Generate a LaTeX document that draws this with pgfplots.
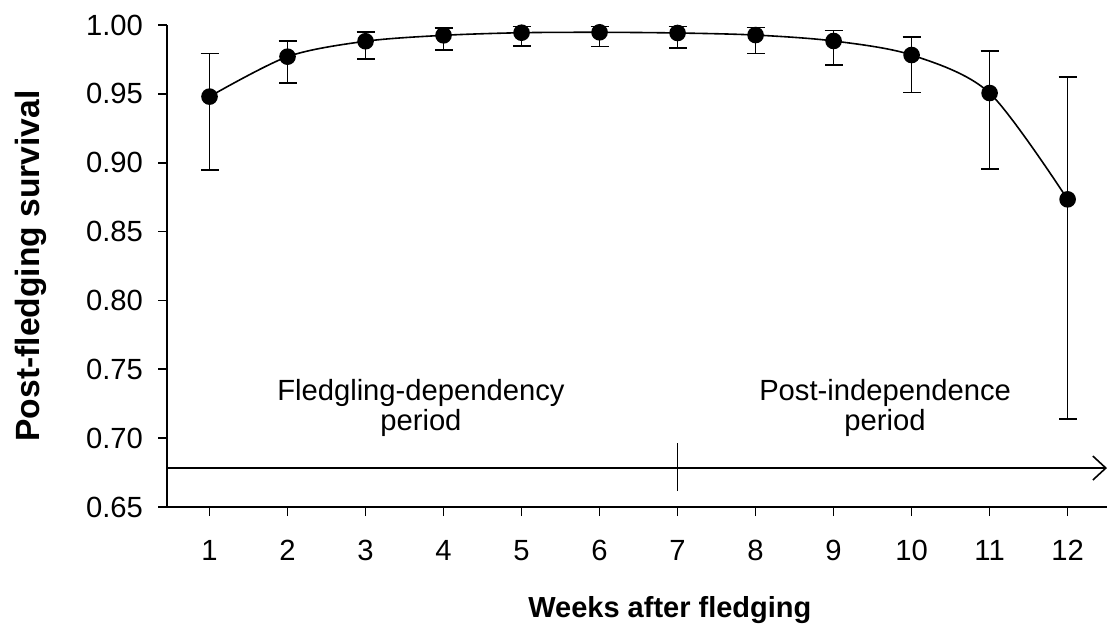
\documentclass[border=0pt]{standalone}
\usepackage{fontspec}
\setmainfont{Liberation Sans}
\usepackage{pgfplots}
\pgfplotsset{compat=1.18}
\usepackage{pgfplotstable}
\usetikzlibrary{arrows.meta}

% weekly survival estimates with asymmetric 95% limits
\pgfplotstableread{
week  surv    ep      em
1     0.9480  0.0314  0.0535
2     0.9770  0.0116  0.0189
3     0.9882  0.0067  0.0127
4     0.9925  0.0053  0.0107
5     0.9944  0.0044  0.0096
6     0.9947  0.0041  0.0102
7     0.9942  0.0046  0.0111
8     0.9927  0.0054  0.0133
9     0.9884  0.0077  0.0174
10    0.9782  0.0133  0.0271
11    0.9506  0.0305  0.0552
12    0.8734  0.0888  0.1595
}\survival

\begin{document}
\begin{tikzpicture}
\path[use as bounding box] (0,0) rectangle (553.5pt,314pt);
\begin{axis}[
  at={(83.5pt,60.5pt)}, anchor=south west,
  scale only axis, width=470pt, height=241pt,
  xmin=0.455, xmax=12.505, ymin=0.65, ymax=1.00,
  axis lines*=left,
  axis line style={line width=0.8pt, black, -},
  tick align=outside, major tick length=4.5pt,
  tick style={line width=0.8pt, black},
  xtick={1,...,12},
  ytick={0.65,0.70,0.75,0.80,0.85,0.90,0.95,1.00},
  yticklabel style={/pgf/number format/fixed, /pgf/number format/fixed zerofill,
    /pgf/number format/precision=2, xshift=-4pt},
  xticklabel style={yshift=-8.5pt},
  /pgf/number format/assume math mode=true,
  tick label style={font=\fontsize{14.6}{17}\selectfont},
  xlabel={Weeks after fledging},
  ylabel={Post-fledging survival},
  xlabel style={font=\fontsize{14.5}{17}\selectfont\bfseries,
    at={(rel axis cs:0.535,0)}, anchor=base, yshift=-55pt},
  ylabel style={font=\fontsize{16.8}{19}\selectfont\bfseries,
    at={(rel axis cs:0,0.5)}, anchor=center, yshift=68pt},
  clip=false,
]
% period axis along the bottom
\draw[line width=1pt, -{Straight Barb[length=6.5pt,width=12pt,line width=0.8pt]}]
  (axis cs:0.455,0.6783) -- (axis cs:12.505,0.6783);
\draw[line width=0.5pt] (axis cs:7,0.6616) -- (axis cs:7,0.6965);
\node[font=\fontsize{14.6}{17}\selectfont, anchor=base] at (axis cs:3.71,0.7277) {Fledgling-dependency};
\node[font=\fontsize{14.6}{17}\selectfont, anchor=base] at (axis cs:3.71,0.7059) {period};
\node[font=\fontsize{14.6}{17}\selectfont, anchor=base] at (axis cs:9.66,0.7277) {Post-independence};
\node[font=\fontsize{14.6}{17}\selectfont, anchor=base] at (axis cs:9.66,0.7059) {period};

\addplot[black, line width=0.8pt, smooth, tension=0.5,
  mark=*, mark size=3.75pt, mark options={solid, fill=black},
  error bars/.cd, y dir=both, y explicit,
  error bar style={line width=0.8pt, black},
  error mark options={rotate=90, mark size=4.5pt, line width=0.8pt, black}]
  table[x=week, y=surv, y error plus=ep, y error minus=em] {\survival};
\end{axis}
\end{tikzpicture}
\end{document}
